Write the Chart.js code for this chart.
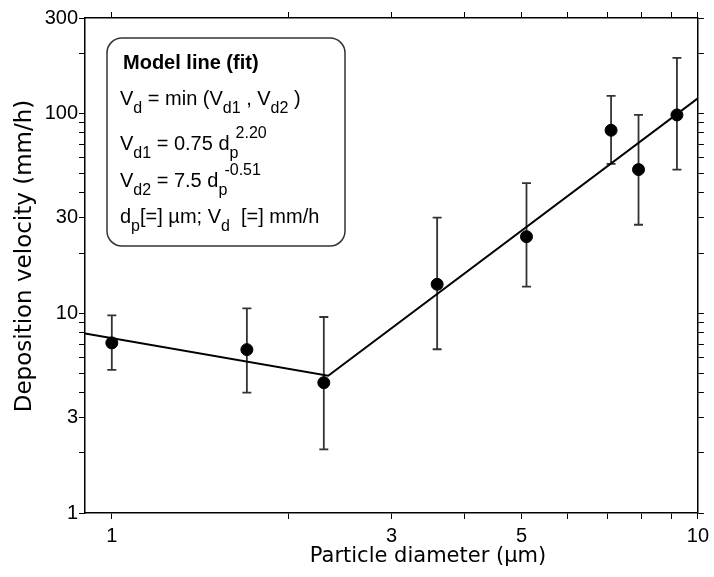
<!DOCTYPE html>
<html>
<head>
<meta charset="utf-8">
<script src="https://cdn.jsdelivr.net/npm/chart.js@4/dist/chart.umd.min.js"></script>
<style>
  html, body { margin: 0; padding: 0; background: #fff; }
</style>
</head>
<body>
<canvas id="depChart" width="714" height="577"></canvas>
<script>
// measured points (particle diameter in µm, deposition velocity in mm/h)
const diam = [1.00, 1.70, 2.30, 3.59, 5.10, 7.11, 7.92, 9.21];
const vel = [7.1, 6.57, 4.49, 13.95, 24.15, 82.3, 52.3, 98.2];
const errHi = [9.76, 10.58, 9.57, 30.06, 44.7, 122.2, 98.2, 189.4];
const errLo = [5.2, 4.0, 2.08, 6.6, 13.57, 55.8, 27.7, 52.3];

// model line (fit) vertices
const fitX = [0.9, 2.34, 10];
const fitY = [7.91, 4.86, 118.9];

// ticks
const xTicks = [1, 2, 3, 4, 5, 6, 7, 8, 9, 10];
const xLabels = [1, 3, 5, 10];
const yTicks = [1, 2, 3, 4, 5, 6, 7, 8, 9, 10, 20, 30, 40, 50, 60, 70, 80, 90, 100, 200, 300];
const yLabels = [1, 3, 10, 30, 100, 300];

const SANS = '"Liberation Sans", Arial, sans-serif';

const pts = diam.map((d, i) => ({ x: d, y: vel[i] }));
const fitPts = fitX.map((d, i) => ({ x: d, y: fitY[i] }));

// error bars drawn through the scales
const errorBars = {
  id: 'errorBars',
  beforeDatasetsDraw(chart) {
    const { ctx, scales: { x, y } } = chart;
    ctx.save();
    ctx.strokeStyle = '#333';
    ctx.lineWidth = 1.8;
    diam.forEach((d, i) => {
      const px = x.getPixelForValue(d);
      const top = y.getPixelForValue(errHi[i]);
      const bot = y.getPixelForValue(errLo[i]);
      ctx.beginPath();
      ctx.moveTo(px, top); ctx.lineTo(px, bot);
      ctx.moveTo(px - 4.5, top); ctx.lineTo(px + 4.5, top);
      ctx.moveTo(px - 4.5, bot); ctx.lineTo(px + 4.5, bot);
      ctx.stroke();
    });
    ctx.restore();
  }
};

// draws one line of text with subscripts / superscripts
function richLine(ctx, x, y, parts) {
  let cx = x;
  let subX = null;
  parts.forEach(([text, kind]) => {
    if (kind === 'sub') {
      ctx.font = '16px ' + SANS;
      ctx.fillText(text, cx, y + 8);
      subX = cx;
      cx += ctx.measureText(text).width;
    } else if (kind === 'sup') {
      ctx.font = '16px ' + SANS;
      const sx = subX !== null ? subX + 6 : cx;
      ctx.fillText(text, sx, y - 12);
      cx = Math.max(cx, sx + ctx.measureText(text).width);
      subX = null;
    } else {
      ctx.font = (kind === 'b' ? 'bold ' : '') + '20px ' + SANS;
      ctx.fillText(text, cx, y);
      cx += ctx.measureText(text).width;
      subX = null;
    }
  });
}

const annotations = {
  id: 'annotations',
  afterDraw(chart) {
    const { ctx } = chart;
    ctx.save();
    ctx.fillStyle = '#000';
    ctx.textBaseline = 'alphabetic';

    // axis titles
    ctx.font = '21px "DejaVu Sans", sans-serif';
    ctx.textAlign = 'center';
    ctx.fillText('Particle diameter (µm)', 428, 562);
    ctx.save();
    ctx.translate(31, 256);
    ctx.rotate(-Math.PI / 2);
    ctx.font = '23px "DejaVu Sans", sans-serif';
    ctx.fillText('Deposition velocity (mm/h)', 0, 0);
    ctx.restore();

    // model box
    ctx.strokeStyle = '#333';
    ctx.lineWidth = 1.5;
    ctx.beginPath();
    ctx.roundRect(107, 38, 238, 208, 15);
    ctx.stroke();

    ctx.textAlign = 'left';
    richLine(ctx, 123, 69, [['Model line (fit)', 'b']]);
    richLine(ctx, 120, 105, [['V'], ['d', 'sub'], [' = min (V'], ['d1', 'sub'], [' , V'], ['d2', 'sub'], [' )']]);
    richLine(ctx, 120, 150, [['V'], ['d1', 'sub'], [' = 0.75 d'], ['p', 'sub'], ['2.20', 'sup']]);
    richLine(ctx, 120, 187, [['V'], ['d2', 'sub'], [' = 7.5 d'], ['p', 'sub'], ['-0.51', 'sup']]);
    richLine(ctx, 120, 223, [['d'], ['p', 'sub'], ['[=] µm; V'], ['d', 'sub'], ['  [=] mm/h']]);
    ctx.restore();
  }
};

function fixTicks(list) {
  return function (scale) {
    scale.ticks = list.map(v => ({ value: v }));
  };
}

function labelCb(list) {
  return function (value) {
    return list.includes(value) ? String(value) : '';
  };
}

const gridOpts = { drawOnChartArea: false, drawTicks: true, tickLength: 6, color: '#000', lineWidth: 1 };
const borderOpts = { display: true, color: '#000', width: 1.5 };

new Chart(document.getElementById('depChart'), {
  type: 'scatter',
  data: {
    datasets: [
      {
        label: 'Measured',
        data: pts,
        backgroundColor: '#000',
        borderColor: '#000',
        pointRadius: 6,
        pointHoverRadius: 6,
        order: 1
      },
      {
        label: 'Model line (fit)',
        data: fitPts,
        showLine: true,
        borderColor: '#000',
        borderWidth: 2,
        pointRadius: 0,
        fill: false,
        order: 2
      }
    ]
  },
  options: {
    responsive: false,
    animation: false,
    layout: { padding: 0 },
    plugins: {
      legend: { display: false },
      tooltip: { enabled: false }
    },
    scales: {
      x: {
        type: 'logarithmic',
        position: 'bottom',
        min: 0.9,
        max: 10,
        afterBuildTicks: fixTicks(xTicks),
        afterFit(s) { s.height = 64; },
        ticks: {
          autoSkip: false,
          maxRotation: 0,
          padding: 5,
          color: '#000',
          font: { family: SANS, size: 20 },
          callback: labelCb(xLabels)
        },
        grid: gridOpts,
        border: borderOpts
      },
      x2: {
        type: 'logarithmic',
        position: 'top',
        min: 0.9,
        max: 10,
        afterBuildTicks: fixTicks(xTicks),
        afterFit(s) { s.height = 18; },
        ticks: { autoSkip: false, maxRotation: 0, padding: 0, font: { size: 1 }, callback: () => '' },
        grid: gridOpts,
        border: borderOpts
      },
      y: {
        type: 'logarithmic',
        position: 'left',
        min: 1,
        max: 300,
        afterBuildTicks: fixTicks(yTicks),
        afterFit(s) { s.width = 85; },
        ticks: {
          autoSkip: false,
          padding: 1,
          color: '#000',
          font: { family: SANS, size: 20 },
          callback: labelCb(yLabels)
        },
        grid: gridOpts,
        border: borderOpts
      },
      y2: {
        type: 'logarithmic',
        position: 'right',
        min: 1,
        max: 300,
        afterBuildTicks: fixTicks(yTicks),
        afterFit(s) { s.width = 11; },
        ticks: { autoSkip: false, padding: 0, font: { size: 1 }, callback: () => '' },
        grid: gridOpts,
        border: borderOpts
      }
    }
  },
  plugins: [errorBars, annotations]
});
</script>
</body>
</html>
